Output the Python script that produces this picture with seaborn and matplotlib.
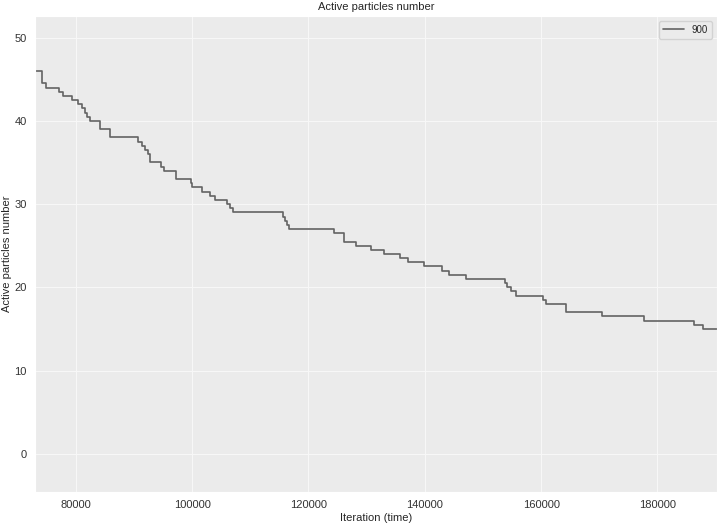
import seaborn as sns
import matplotlib.pyplot as plt
import pandas as pd

# step changes: (iteration where the value starts, active particles)
iterations = [73000, 74260, 74850, 77180, 77870, 79310, 80450, 81030, 81600, 81990,
              82460, 84180, 85890, 90760, 91340, 91910, 92470, 92850, 94660, 95170,
              97230, 99760, 99980, 101650, 103070, 103930, 105940, 106510, 107080, 115620,
              116050, 116350, 116730, 124460, 126040, 128240, 130680, 133050, 135800, 137120,
              139920, 143020, 144180, 147050, 153840, 154180, 154900, 155730, 160370, 160850,
              164230, 170540, 177640, 186320, 187760, 190200]
particles = [46, 44.5, 44, 43.5, 43, 42.5, 42, 41.5, 41, 40.5,
             40, 39, 38, 37.5, 37, 36.5, 36, 35, 34.5, 34,
             33, 32.5, 32, 31.5, 31, 30.5, 30, 29.5, 29, 28.5,
             28, 27.5, 27, 26.5, 25.5, 25, 24.5, 24, 23.5, 23,
             22.5, 22, 21.5, 21, 20.5, 20, 19.5, 19, 18.5, 18,
             17, 16.5, 16, 15.5, 15, 15]
run_label = "900"

df = pd.DataFrame({"Iteration (time)": iterations, "Active particles number": particles})

sns.set_style("darkgrid", {"axes.facecolor": "#EBEBEB", "grid.color": "#F7F7F7"})
plt.rcParams["font.family"] = ["Liberation Sans", "DejaVu Sans"]
plt.rcParams["grid.linewidth"] = 0.8

fig = plt.figure(figsize=(7.2, 5.26), dpi=100)
ax = fig.add_axes([0.0486, 0.0646, 0.947, 0.905])

sns.lineplot(data=df, x="Iteration (time)", y="Active particles number", ax=ax,
             drawstyle="steps-post", color="#636363", linewidth=1.2, label=run_label)

ax.set_xlim(73000, 190200)
ax.set_ylim(-4.6, 52.6)
ax.set_xticks([80000, 100000, 120000, 140000, 160000, 180000])
ax.set_yticks([0, 10, 20, 30, 40, 50])
ax.tick_params(labelsize=8, colors="#333333", length=0, pad=6)
ax.set_title("Active particles number", fontsize=8, pad=4)
ax.set_xlabel("Iteration (time)", fontsize=8, labelpad=2)
ax.set_ylabel("Active particles number", fontsize=8, labelpad=2)
ax.legend(loc="upper right", fontsize=7, handlelength=2.2, frameon=True)

fig.savefig("out.png", dpi=100)
